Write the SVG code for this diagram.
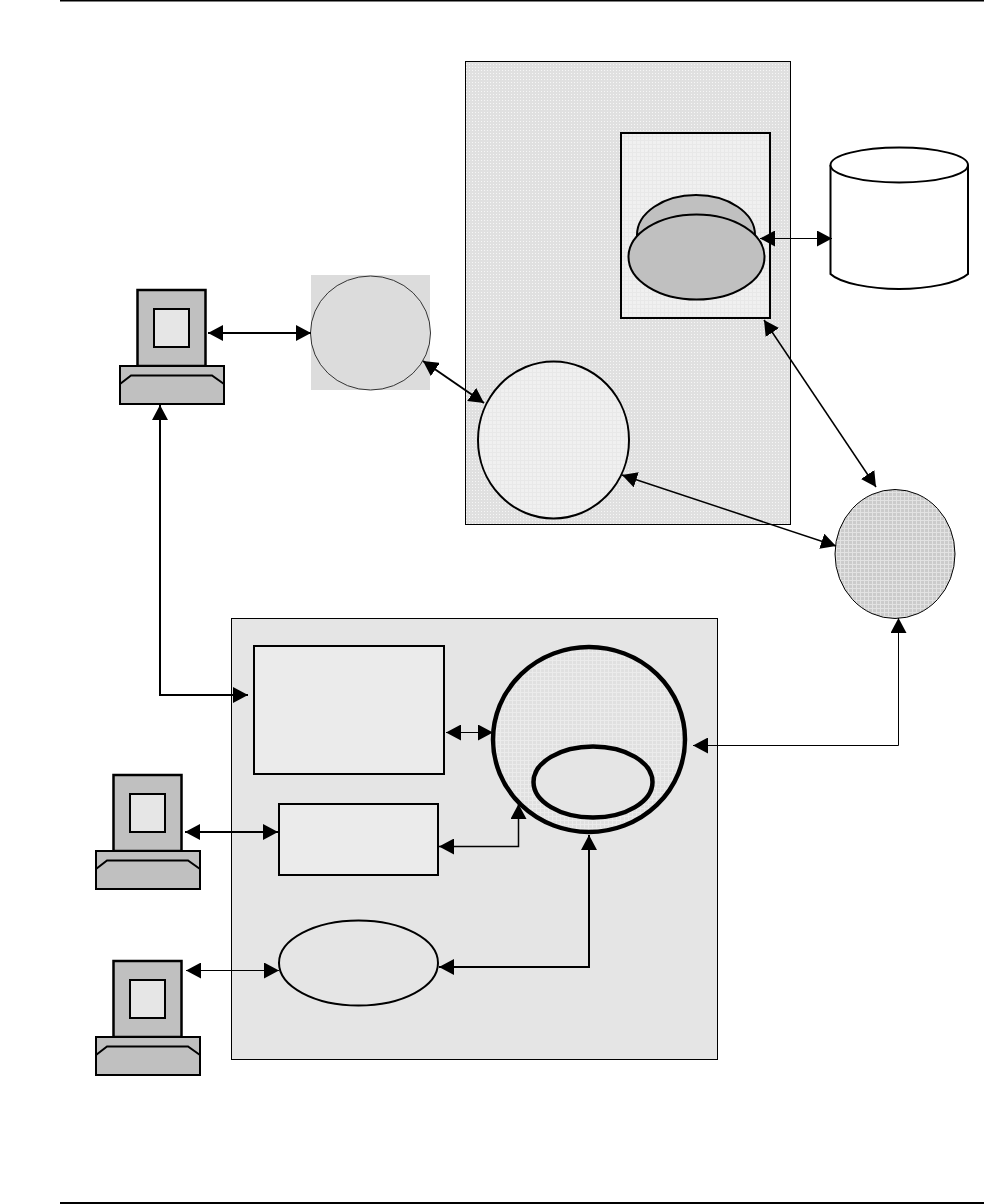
<svg xmlns="http://www.w3.org/2000/svg" width="984" height="1204" viewBox="0 0 984 1204">
<defs>
<pattern id="dots" width="3" height="3" patternUnits="userSpaceOnUse"><rect width="3" height="3" fill="#e0e0e0"/><rect x="1" y="1" width="1" height="1" fill="#f6f6f6"/></pattern>
<pattern id="fine" width="4" height="4" patternUnits="userSpaceOnUse"><rect width="4" height="4" fill="#f0f0f0"/><path d="M0 .5H4M.5 0V4" stroke="#e8e8e8" stroke-width="1"/></pattern>
<pattern id="mesh" width="4" height="4" patternUnits="userSpaceOnUse"><rect width="4" height="4" fill="#e0e0e0"/><path d="M0 .5H4M.5 0V4" stroke="#ebebeb" stroke-width="1"/></pattern>
<pattern id="dark" width="4" height="4" patternUnits="userSpaceOnUse"><rect width="4" height="4" fill="#cbcbcb"/><path d="M0 .5H4M.5 0V4" stroke="#e2e2e2" stroke-width="1"/></pattern>
<marker id="a" viewBox="0 0 15 16" refX="15" refY="8" markerWidth="15" markerHeight="16" markerUnits="userSpaceOnUse" orient="auto-start-reverse"><path d="M0 0L15 8L0 16Z" fill="#000"/></marker>
<g id="pc">
<rect x="17.500" y="0" width="68" height="76" fill="#c0c0c0" stroke="#000" stroke-width="2.500"/>
<rect x="34" y="19" width="35" height="38" fill="#e6e6e6" stroke="#000" stroke-width="2"/>
<rect x="0" y="76" width="104" height="38" fill="#c0c0c0" stroke="#000" stroke-width="2"/>
<path d="M0 94L11 85.500H92L104 94" fill="none" stroke="#000" stroke-width="2"/>
</g>
</defs>
<style>.c{fill:none;stroke:#000;stroke-width:1;marker-start:url(#a);marker-end:url(#a)}.m{stroke-width:1.500}.t{stroke-width:2}.n{stroke:#000}</style>
<g id="rules"><path d="M60 0.500H984M60 1203H984" stroke="#000" stroke-width="2"/></g>
<g id="server"><rect class="n" x="465.500" y="61.500" width="325" height="463" fill="url(#dots)"/></g>
<g id="inner-box"><rect class="n" x="621" y="133" width="149" height="185" fill="url(#fine)" stroke-width="2"/>
<ellipse class="n" cx="696" cy="235" rx="59" ry="40" fill="#c0c0c0" stroke-width="2"/>
<ellipse class="n" cx="696.500" cy="257" rx="68" ry="42.500" fill="#c0c0c0" stroke-width="2"/></g>
<g id="database"><path class="n" d="M830.500 165V274C840 283 870 289 899 289S958 283 968 274V165" fill="#fff" stroke-width="2"/><ellipse class="n" cx="899.250" cy="165" rx="68.750" ry="17.500" fill="#fff" stroke-width="2"/></g>
<g id="gateway"><rect x="311" y="275" width="119" height="115" fill="#dcdcdc"/><ellipse cx="370.500" cy="333" rx="60" ry="57" fill="#dcdcdc" stroke="#333"/></g>
<g id="app-circle"><ellipse class="n" cx="553.500" cy="440" rx="75.500" ry="78.500" fill="url(#fine)" stroke-width="2"/></g>
<g id="right-circle"><ellipse class="n" cx="895" cy="554" rx="60" ry="64.500" fill="url(#dark)"/></g>
<g id="client-area"><rect class="n" x="231.500" y="618.500" width="486" height="441" fill="#e5e5e5"/></g>
<g id="box-a"><rect class="n" x="254" y="646" width="190" height="128" fill="#ebebeb" stroke-width="2"/></g>
<g id="box-b"><rect class="n" x="279" y="804" width="159" height="71" fill="#ebebeb" stroke-width="2"/></g>
<g id="oval"><ellipse class="n" cx="358.500" cy="963" rx="79.500" ry="42.500" fill="#e5e5e5" stroke-width="2"/></g>
<g id="big-circle"><ellipse class="n" cx="589" cy="739.500" rx="96" ry="92.500" fill="url(#mesh)" stroke-width="4.500"/><ellipse class="n" cx="593" cy="782" rx="59.500" ry="35.500" fill="#e5e5e5" stroke-width="4.500"/></g>
<use id="pc1" href="#pc" x="120" y="290"/>
<use id="pc2" href="#pc" x="96" y="775"/>
<use id="pc3" href="#pc" x="96" y="961"/>
<g id="connectors">
<path class="c t" d="M208 333H311"/>
<path class="c t" d="M423 361L484 403"/>
<path class="c" d="M760 238.500H832"/>
<path class="c m" d="M764 320L876 487"/>
<path class="c m" d="M622 475L836 546"/>
<path class="c" d="M693 745.500H898.500V618"/>
<path class="c t" d="M160 405V695H248"/>
<path class="c" d="M446 732.500H493"/>
<path class="c t" d="M185 832H278"/>
<path class="c m" d="M439 846.500H518.500V804"/>
<path class="c" d="M186 970.500H279"/>
<path class="c t" d="M439 967H589V835"/>
</g>
</svg>
